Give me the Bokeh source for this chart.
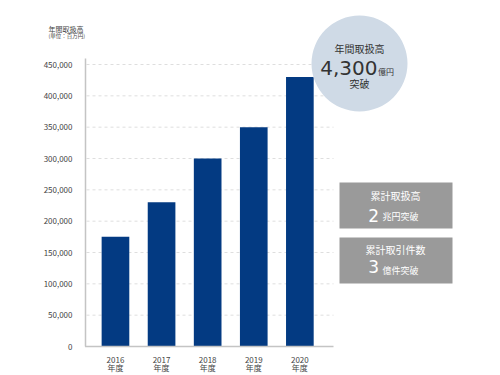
from bokeh.plotting import figure
from bokeh.models import Range1d, FixedTicker, NumeralTickFormatter
from bokeh.core.properties import value
from bokeh.embed import file_html
from bokeh.resources import INLINE

# ---- data ----
years = ["2016", "2017", "2018", "2019", "2020"]
year_suffix = "年度"
amounts = [175000, 230000, 300000, 350000, 430000]   # 百万円
y_ticks = [0, 50000, 100000, 150000, 200000, 250000, 300000, 350000, 400000, 450000]
unit_title = "年間取扱高"
unit_note = "(単位：百万円)"
circle_texts = ["年間取扱高", "4,300", "億円", "突破"]
box1_texts = ["累計取扱高", "2", "兆円突破"]
box2_texts = ["累計取引件数", "3", "億件突破"]

JP = "Noto Sans CJK JP"
NUM = "DejaVu Sans"

# ---- geometry helpers (page px -> data) ----
FL, FB, UNIT_PX, Y_PX = 85, 346, 46.1, 282.0
LEFT, TOP, RIGHT, BOTTOM = 40, 10, 484, 350
def px(xp):
    return -0.65 + (xp - FL) / UNIT_PX
def py(yp):
    return (FB - yp) / Y_PX * 450000

p = figure(frame_width=RIGHT - LEFT, frame_height=BOTTOM - TOP,
           min_border_left=LEFT, min_border_right=0, min_border_top=TOP, min_border_bottom=18,
           x_range=Range1d(px(LEFT), px(RIGHT)),
           y_range=Range1d(py(BOTTOM), py(TOP)),
           output_backend="svg", toolbar_location=None)
p.outline_line_color = None
p.xgrid.visible = False
p.ygrid.visible = False
p.background_fill_color = "white"
p.border_fill_color = "white"

AXIS_COLOR = "#c4c4c4"

# y axis (drawn at the bar-area edge)
ya = p.yaxis[0]
ya.fixed_location = px(FL)
ya.ticker = FixedTicker(ticks=y_ticks)
ya.formatter = NumeralTickFormatter(format="0,0")
ya.bounds = (0, py(58))
ya.axis_line_color = AXIS_COLOR
ya.axis_line_width = 1.5
ya.major_tick_line_color = None
ya.minor_tick_line_color = None
ya.major_label_standoff = 7
ya.major_label_text_font = JP
ya.major_label_text_font_size = "8px"
ya.major_label_text_color = "#444444"

# x axis (labels only; base line drawn at value 0)
xa = p.xaxis[0]
xa.ticker = FixedTicker(ticks=list(range(len(years))))
xa.major_label_overrides = {i: f"{y}\n{year_suffix}" for i, y in enumerate(years)}
xa.axis_line_color = None
xa.major_tick_line_color = None
xa.minor_tick_line_color = None
xa.major_label_standoff = -3
xa.major_label_text_font = JP
xa.major_label_text_font_size = "8px"
xa.major_label_text_line_height = 0.75
xa.major_label_text_color = "#444444"

# dashed grid lines
gl = y_ticks[1:]
p.segment(x0=[px(FL + 1)] * len(gl), x1=[px(333)] * len(gl), y0=gl, y1=gl,
          line_color="#dedede", line_width=1, line_dash="3 3")

# bars
p.vbar(x=list(range(len(years))), top=amounts, bottom=0, width=0.6,
       fill_color="#033a82", line_color=None)

# base line at 0
p.segment(x0=[px(FL) - 0.01], x1=[px(333)], y0=[y_ticks[0]], y1=[y_ticks[0]],
          line_color=AXIS_COLOR, line_width=1.5)

# circle badge
p.scatter(x=[px(359)], y=[py(63)], size=96, marker="circle",
          fill_color="#cfdae6", line_color=None)
p.text(x=[px(359)], y=[py(48)], text=[circle_texts[0]], text_font=value(JP),
       text_font_size="10px", text_color="#333333", text_align="center", text_baseline="middle")
p.text(x=[px(377)], y=[py(67)], text=[circle_texts[1]], text_font=value(NUM),
       text_font_size="20px", text_color="#333333", text_align="right", text_baseline="middle")
p.text(x=[px(377.5)], y=[py(70.5)], text=[circle_texts[2]], text_font=value(JP),
       text_font_size="8px", text_color="#333333", text_align="left", text_baseline="middle")
p.text(x=[px(359)], y=[py(83)], text=[circle_texts[3]], text_font=value(JP),
       text_font_size="10px", text_color="#333333", text_align="center", text_baseline="middle")

# gray boxes
for (top, bot, texts, ty, ny, sy) in [(182, 228, box1_texts, 194.5, 214.5, 215.5),
                                       (237, 283, box2_texts, 248.5, 265.5, 269.5)]:
    p.quad(left=[px(339)], right=[px(452)], top=[py(top)], bottom=[py(bot)],
           fill_color="#9a9a9a", line_color=None)
    p.text(x=[px(395)], y=[py(ty)], text=[texts[0]], text_font=value(JP),
           text_font_size="10px", text_color="white", text_align="center", text_baseline="middle")
    p.text(x=[px(378.5)], y=[py(ny)], text=[texts[1]], text_font=value(NUM),
           text_font_size="17px", text_color="white", text_align="right", text_baseline="middle")
    p.text(x=[px(382)], y=[py(sy)], text=[texts[2]], text_font=value(JP),
           text_font_size="9px", text_color="white", text_align="left", text_baseline="middle")

# top-left unit labels
p.text(x=[px(48)], y=[py(28)], text=[unit_title], text_font=value(JP),
       text_font_size="7px", text_color="#444444", text_align="left", text_baseline="middle")
p.text(x=[px(48)], y=[py(35)], text=[unit_note], text_font=value(JP),
       text_font_size="5.5px", text_color="#444444", text_align="left", text_baseline="middle")

open("out.html", "w").write(file_html(p, INLINE))
